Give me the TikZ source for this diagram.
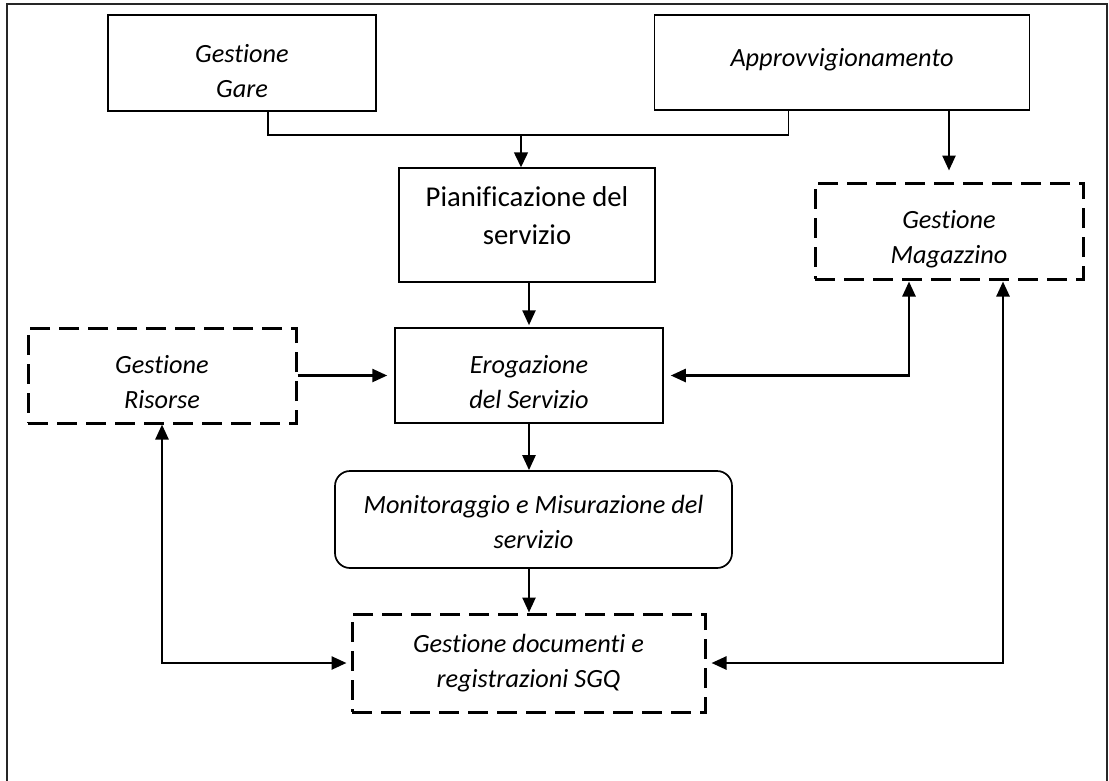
\documentclass[tikz,border=0pt]{standalone}
\usepackage{fontspec}
\setmainfont{Carlito}[Ligatures={NoCommon,NoContextual}]
\usetikzlibrary{arrows.meta}
\tikzset{
  sbox/.style={draw, line width=1.5pt, inner sep=0pt},
  dbox/.style={draw, line width=3pt, dash pattern=on 20pt off 9pt, inner sep=0pt},
  rbox/.style={draw, line width=1.7pt, rounded corners=15pt, inner sep=0pt},
  itxt/.style={align=center, inner sep=0pt, font=\fontsize{26.3}{35}\selectfont\itshape},
  ptxt/.style={align=center, inner sep=0pt, font=\fontsize{28.7}{38}\selectfont},
  thinconn/.style={line width=1.5pt},
  arrthin/.style={line width=1.5pt, -{Triangle[length=15pt,width=14pt]}},
  arr/.style={line width=2.5pt, -{Triangle[length=15pt,width=13pt]}},
  arrb/.style={line width=2.5pt, {Triangle[length=15pt,width=13pt]}-{Triangle[length=15pt,width=13pt]}},
  framel/.style={line width=1.3pt, draw=black!85}
}
\begin{document}
\begin{tikzpicture}[x=1pt,y=-1pt]
\useasboundingbox (0,0) rectangle (1109,780);
\draw[framel] (7,782) -- (7,4) -- (1107,4) -- (1107,782);

% boxes
\node[sbox, minimum width=268pt, minimum height=96pt] (gare) at (242,63) {};
\node[itxt] (gare-t) at ([yshift=-8pt]gare.center) {Gestione\\Gare};

\node[sbox, minimum width=375pt, minimum height=95pt] (appr) at (842,62.5) {};
\node[itxt] (appr-t) at ([yshift=2.5pt]appr.center) {Approvvigionamento};

\node[sbox, minimum width=256pt, minimum height=114pt] (pian) at (527,225) {};
\node[ptxt] (pian-t) at ([yshift=9pt]pian.center) {Pianificazione del\\servizio};

\node[dbox, minimum width=268pt, minimum height=96pt] (mag) at (949,231) {};
\node[itxt] (mag-t) at ([yshift=-8pt]mag.center) {Gestione\\Magazzino};

\node[dbox, minimum width=268pt, minimum height=95pt] (ris) at (162,375.5) {};
\node[itxt] (ris-t) at ([yshift=-7pt]ris.center) {Gestione\\Risorse};

\node[sbox, minimum width=268pt, minimum height=95pt] (erog) at (529,375.5) {};
\node[itxt] (erog-t) at ([yshift=-7pt]erog.center) {Erogazione\\del Servizio};

\node[rbox, minimum width=397pt, minimum height=97pt] (mon) at (533.5,519.5) {};
\node[itxt] (mon-t) at ([yshift=-2pt]mon.center) {Monitoraggio e Misurazione del\\servizio};

\node[dbox, minimum width=353pt, minimum height=98pt] (doc) at (528.5,663) {};
\node[itxt] (doc-t) at ([yshift=0pt]doc.center) {Gestione documenti e\\registrazioni SGQ};

% top connector
\coordinate (jl) at (268,135);
\coordinate (jr) at (788.6,135);
\coordinate (jm) at (521,135);
\draw[thinconn] (gare.south -| jl) -- (jl) -- (jr) -- (appr.south -| jr);
\draw[arrthin] (jm) -- (pian.north -| jm);

\draw[arr, shorten >=11pt] (appr.south -| mag.north) -- (mag.north);
\draw[arr, shorten >=2pt] (pian.south -| erog.north) -- (erog.north);
\draw[arr, shorten >=7pt] (ris.east) -- (erog.west);
\draw[arrb, shorten >=7pt, shorten <=1pt] ([xshift=-40pt]mag.south) |- (erog.east);
\draw[arr] (erog.south) -- (erog.south |- mon.north);
\draw[arr] (erog.south |- mon.south) -- (erog.south |- doc.north);
\draw[arrb, shorten >=4pt] (ris.south) |- (doc.west);
\draw[arrb, shorten >=5pt, shorten <=1pt] ([xshift=54pt]mag.south) |- (doc.east);
\end{tikzpicture}
\end{document}
